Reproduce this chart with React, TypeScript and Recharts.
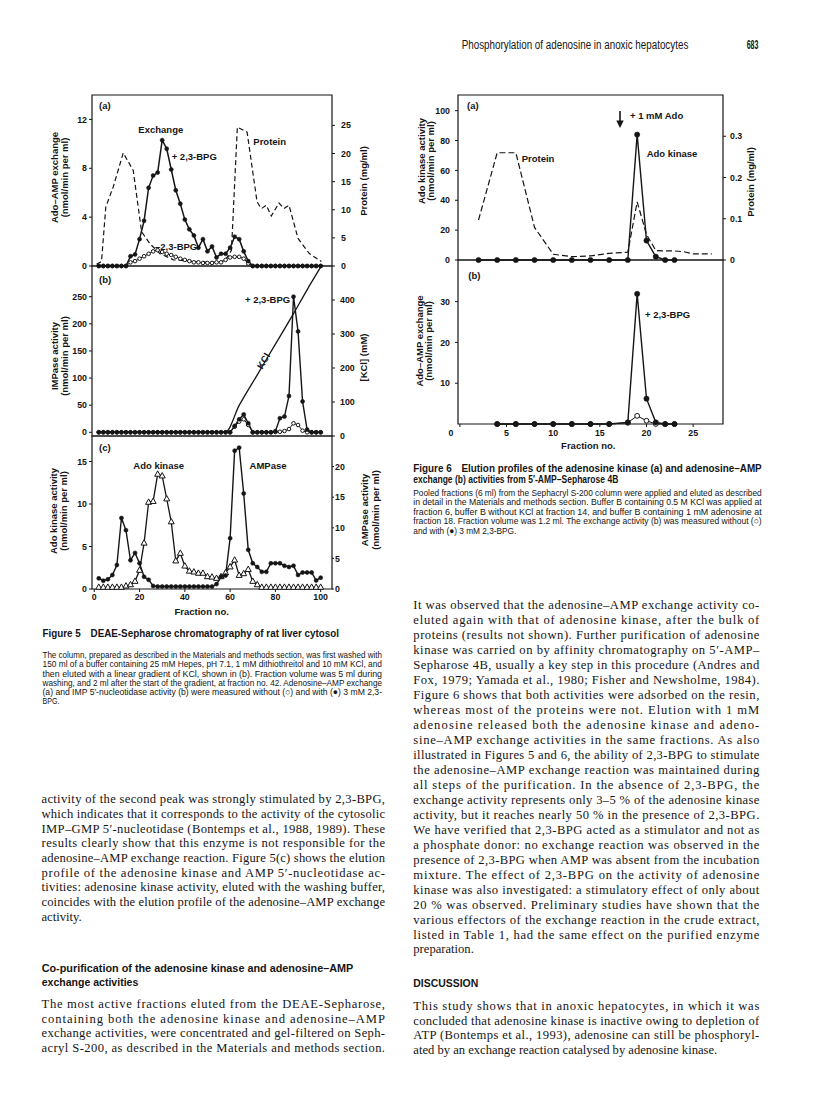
import React from "react";
import { ComposedChart, Line, XAxis, YAxis, ReferenceArea } from "recharts";

const SANS = '"Liberation Sans", Arial, Helvetica, sans-serif';
const SERIF = '"Liberation Serif", "Times New Roman", serif';
const INK = "#151515";

// ---- Figure 5: DEAE-Sepharose, one point every 2 fractions ----
const FIG5_FRACTIONS = [
  2, 4, 6, 8, 10, 12, 14, 16, 18, 20, 22, 24, 26, 28, 30, 32, 34, 36, 38, 40, 42, 44, 46, 48, 50,
  52, 54, 56, 58, 60, 62, 64, 66, 68, 70, 72, 74, 76, 78, 80, 82, 84, 86, 88, 90, 92, 94, 96, 98, 100,
];
// (a) Ado-AMP exchange, nmol/min per ml
const FIG5A_PLUS_BPG = [
  0, 0, 0, 0, 0, 0, 0, 0.8, 0.95, 2.2, 3.7, 6.4, 7.4, 7.65, 10.3, 9.6, 7.9, 6.2, 5.1, 3.8, 3.0, 2.5, 1.5, 2.2, 1.2,
  1.6, 0.7, 1.0, 1.0, 1.5, 2.4, 2.2, 1.2, 0.4, 0, 0, 0, 0, 0, 0, 0, 0, 0, 0, 0, 0, 0, 0, 0, 0,
];
const FIG5A_MINUS_BPG = [
  0, 0, 0, 0, 0, 0, 0, 0.3, 0.4, 0.6, 0.8, 1.0, 1.2, 1.3, 1.15, 1.0, 0.9, 0.75, 0.6, 0.5, 0.4, 0.3, 0.3, 0.25, 0.25,
  0.25, 0.3, 0.3, 0.5, 0.7, 0.75, 0.75, 0.6, 0.2, 0, 0, 0, 0, 0, 0, 0, 0, 0, 0, 0, 0, 0, 0, 0, 0,
];
// (a) protein, mg/ml (dashed)
const FIG5A_PROTEIN_FRACTIONS = [
  1, 3.2, 5.1, 8.4, 12.8, 17.2, 20.9, 24.5, 29, 35, 45, 55, 58, 60.6, 63.2, 67.5, 71.9, 73.8, 76, 78.2, 81.6,
  83.8, 86, 90, 95, 100.3,
];
const FIG5A_PROTEIN = [
  0.3, 0.8, 10.5, 14.1, 20.1, 17.0, 6.1, 4.0, 2.2, 1.1, 0.8, 0.6, 1.1, 2.8, 24.7, 23.8, 11.4, 10.2, 10.8, 8.9, 11.2,
  10.2, 10.8, 4.9, 2.2, 0.8,
];
// (b) IMPase activity, nmol/min per ml
const FIG5B_PLUS_BPG = [
  0, 0, 0, 0, 0, 0, 0, 0, 0, 0, 0, 0, 0, 0, 0, 0, 0, 0, 0, 0, 0, 0, 0, 0, 0,
  0, 0, 0, 0, 0, 11.7, 24, 33, 16.6, 0, 0, 0, 0, 0, 2, 26, 29, 67, 250, 186, 57, 5, 0, 0, 0,
];
const FIG5B_MINUS_BPG = [
  0, 0, 0, 0, 0, 0, 0, 0, 0, 0, 0, 0, 0, 0, 0, 0, 0, 0, 0, 0, 0, 0, 0, 0, 0,
  0, 0, 0, 0, 0, 10.4, 19.7, 24, 13.5, 0, 0, 0, 0, 0, 0.5, 1, 2.4, 6, 16.6, 13.5, 3, 0, 0, 0, 0,
];
// (b) KCl gradient, mM
const FIG5B_KCL_FRACTIONS = [1, 58, 64, 72, 80, 88, 94, 100.3];
const FIG5B_KCL = [12, 12, 90, 180, 270, 360, 430, 500];
// (c) Ado kinase (triangles, left) and AMPase (circles, right)
const FIG5C_ADO_KINASE = [
  0.2, 0.2, 0.2, 0.2, 0.2, 0.2, 0.35, 0.5, 0.9, 2.2, 5.4, 10.2, 10.3, 13.5, 13.3, 10.6, 7.9, 3.3, 4.2, 2.7, 2.1, 2.0,
  1.85, 1.85, 1.45, 1.4, 1.25, 1.45, 1.9, 2.6, 3.4, 1.6, 1.8, 2.3, 0.9, 0.5, 0.2, 0.2, 0.2, 0.2, 0.2, 0.2, 0.2, 0.2,
  0.2, 0.2, 0.2, 0.2, 0.2, 0.2,
];
const FIG5C_AMPASE = [
  1.74, 1.36, 1.58, 2.29, 3.92, 11.6, 9.6, 4.7, 5.9, 4.2, 2.0, 1.5, 0.5, 0.4, 0.4, 0.4, 0.4, 0.4, 0.4, 0.4, 0.4, 0.4,
  0.4, 0.4, 0.4, 0.4, 0.8, 2.0, 2.2, 8.3, 22.6, 23.1, 15.6, 6.4, 4.2, 3.6, 2.8, 2.8, 4.2, 4.2, 4.2, 3.8, 3.6, 3.8,
  2.3, 2.7, 2.7, 2.7, 1.4, 1.85,
];

// ---- Figure 6: 5'-AMP-Sepharose 4B ----
const FIG6A_FRACTIONS = [2, 4, 6, 8, 10, 12, 14, 16, 18, 19, 20, 21, 22, 23];
const FIG6A_ADO_KINASE = [0, 0, 0, 0, 0, 0, 0, 0, 0, 84, 13, 2.2, 0, 0];
const FIG6A_PROTEIN_FRACTIONS = [2, 4, 6, 8, 10, 12, 14, 16, 18, 19, 20, 21, 22, 23, 24, 25, 27];
const FIG6A_PROTEIN = [
  0.097, 0.26, 0.26, 0.079, 0.014, 0.008, 0.01, 0.016, 0.019, 0.141, 0.062, 0.023, 0.022, 0.022, 0.02, 0.015, 0.015,
];
const FIG6B_FRACTIONS = [4, 6, 8, 10, 12, 14, 16, 18, 19, 20, 21, 22, 23];
const FIG6B_PLUS_BPG = [0, 0, 0, 0, 0, 0, 0, 0.4, 31.9, 6.2, 0.4, 0, 0];
const FIG6B_MINUS_BPG = [0, 0, 0, 0, 0, 0, 0, 0.3, 2.0, 0.8, 0, 0, 0];

// ---- page text ----
const LEFT_BODY = [
  "activity of the second peak was strongly stimulated by 2,3-BPG,",
  "which indicates that it corresponds to the activity of the cytosolic",
  "IMP–GMP 5′-nucleotidase (Bontemps et al., 1988, 1989). These",
  "results clearly show that this enzyme is not responsible for the",
  "adenosine–AMP exchange reaction. Figure 5(c) shows the elution",
  "profile of the adenosine kinase and AMP 5′-nucleotidase ac-",
  "tivities: adenosine kinase activity, eluted with the washing buffer,",
  "coincides with the elution profile of the adenosine–AMP exchange",
  "activity.",
];
const LEFT_BODY_2 = [
  "The most active fractions eluted from the DEAE-Sepharose,",
  "containing both the adenosine kinase and adenosine–AMP",
  "exchange activities, were concentrated and gel-filtered on Seph-",
  "acryl S-200, as described in the Materials and methods section.",
];
const RIGHT_BODY = [
  "It was observed that the adenosine–AMP exchange activity co-",
  "eluted again with that of adenosine kinase, after the bulk of",
  "proteins (results not shown). Further purification of adenosine",
  "kinase was carried on by affinity chromatography on 5′-AMP–",
  "Sepharose 4B, usually a key step in this procedure (Andres and",
  "Fox, 1979; Yamada et al., 1980; Fisher and Newsholme, 1984).",
  "Figure 6 shows that both activities were adsorbed on the resin,",
  "whereas most of the proteins were not. Elution with 1 mM",
  "adenosine released both the adenosine kinase and adeno-",
  "sine–AMP exchange activities in the same fractions. As also",
  "illustrated in Figures 5 and 6, the ability of 2,3-BPG to stimulate",
  "the adenosine–AMP exchange reaction was maintained during",
  "all steps of the purification. In the absence of 2,3-BPG, the",
  "exchange activity represents only 3–5 % of the adenosine kinase",
  "activity, but it reaches nearly 50 % in the presence of 2,3-BPG.",
  "We have verified that 2,3-BPG acted as a stimulator and not as",
  "a phosphate donor: no exchange reaction was observed in the",
  "presence of 2,3-BPG when AMP was absent from the incubation",
  "mixture. The effect of 2,3-BPG on the activity of adenosine",
  "kinase was also investigated: a stimulatory effect of only about",
  "20 % was observed. Preliminary studies have shown that the",
  "various effectors of the exchange reaction in the crude extract,",
  "listed in Table 1, had the same effect on the purified enzyme",
  "preparation.",
];
const DISCUSSION_BODY = [
  "This study shows that in anoxic hepatocytes, in which it was",
  "concluded that adenosine kinase is inactive owing to depletion of",
  "ATP (Bontemps et al., 1993), adenosine can still be phosphoryl-",
  "ated by an exchange reaction catalysed by adenosine kinase.",
];
const FIG5_CAPTION = [
  "The column, prepared as described in the Materials and methods section, was first washed with",
  "150 ml of a buffer containing 25 mM Hepes, pH 7.1, 1 mM dithiothreitol and 10 mM KCl, and",
  "then eluted with a linear gradient of KCl, shown in (b). Fraction volume was 5 ml during",
  "washing, and 2 ml after the start of the gradient, at fraction no. 42. Adenosine–AMP exchange",
  "(a) and IMP 5′-nucleotidase activity (b) were measured without (○) and with (●) 3 mM 2,3-",
];
const FIG6_CAPTION = [
  "Pooled fractions (6 ml) from the Sephacryl S-200 column were applied and eluted as described",
  "in detail in the Materials and methods section. Buffer B containing 0.5 M KCl was applied at",
  "fraction 6, buffer B without KCl at fraction 14, and buffer B containing 1 mM adenosine at",
  "fraction 18. Fraction volume was 1.2 ml. The exchange activity (b) was measured without (○)",
];

const rows = (xs: number[], ys: number[]) => xs.map((x, i) => ({ x, y: ys[i] }));

const tickFont = { fontSize: 8.8, fontWeight: 700, fill: INK, fontFamily: SANS };
const filledDot = (r: number) => ({ r, fill: INK, stroke: INK, strokeWidth: 0.6 });
const openDot = (r: number) => ({ r, fill: "#fff", stroke: INK, strokeWidth: 1 });

function TriangleDot(p: any) {
  const { cx, cy, index } = p;
  if (cx == null || cy == null) return <g key={`t${index}`} />;
  return (
    <path
      key={`t${index}`}
      d={`M${cx},${cy - 3.4}L${cx + 3},${cy + 2}L${cx - 3},${cy + 2}Z`}
      fill="#fff"
      stroke={INK}
      strokeWidth={1}
    />
  );
}

function Fig6XTick(p: any) {
  const { x, y, payload } = p;
  return (
    <text x={payload.value === 0 ? x - 9 : x} y={y} dy="0.71em" textAnchor="middle" {...tickFont}>
      {payload.value}
    </text>
  );
}

type TxtProps = {
  x: number;
  y: number;
  w?: number;
  size: number;
  bold?: boolean;
  font?: string;
  squeeze?: boolean;
  anchor?: "start" | "middle" | "end";
  rotate?: number;
  children: React.ReactNode;
};

function Txt({ x, y, w, size, bold, font = SANS, squeeze, anchor = "start", rotate, children }: TxtProps) {
  const extra: any = {};
  if (w) {
    extra.textLength = w;
    extra.lengthAdjust = squeeze ? "spacingAndGlyphs" : "spacing";
  }
  return (
    <text
      x={x}
      y={y + size * 0.35}
      fontSize={size}
      fontFamily={font}
      fontWeight={bold ? 700 : 400}
      textAnchor={anchor}
      fill={INK}
      transform={rotate ? `rotate(${rotate} ${x} ${y})` : undefined}
      {...extra}
    >
      {children}
    </text>
  );
}

const box = (left: number, top: number): React.CSSProperties => ({ position: "absolute", left, top });

function Figure5() {
  const xDomain: [number, number] = [-1, 105];
  return (
    <>
      {/* (a) exchange + protein */}
      <div style={box(32, 85)}>
        <ComposedChart width={360} height={191} margin={{ top: 10, right: 0, bottom: 10, left: 0 }}>
          <XAxis dataKey="x" type="number" domain={xDomain} hide />
          <YAxis yAxisId="l" type="number" domain={[0, 14]} ticks={[0, 4, 8, 12]} interval={0} width={60}
            axisLine={false} tickLine={{ stroke: INK }} tickSize={3} tickMargin={2} tick={tickFont} />
          <YAxis yAxisId="r" orientation="right" type="number" domain={[0, 30.4]} ticks={[0, 5, 10, 15, 20, 25]}
            interval={0} width={60} axisLine={false} tickLine={{ stroke: INK }} tickSize={3} tickMargin={6} tick={tickFont} />
          <ReferenceArea yAxisId="l" x1={-1} x2={105} y1={0} y2={14} fill="none" stroke={INK} strokeWidth={1.2} />
          <Line yAxisId="r" data={rows(FIG5A_PROTEIN_FRACTIONS, FIG5A_PROTEIN)} dataKey="y" type="linear"
            stroke={INK} strokeWidth={1.2} strokeDasharray="5 3" dot={false} isAnimationActive={false} />
          <Line yAxisId="l" data={rows(FIG5_FRACTIONS, FIG5A_MINUS_BPG)} dataKey="y" type="linear"
            stroke={INK} strokeWidth={1} dot={openDot(1.8)} isAnimationActive={false} />
          <Line yAxisId="l" data={rows(FIG5_FRACTIONS, FIG5A_PLUS_BPG)} dataKey="y" type="linear"
            stroke={INK} strokeWidth={1.5} dot={filledDot(2)} isAnimationActive={false} />
        </ComposedChart>
      </div>
      {/* (b) IMPase + KCl */}
      <div style={box(32, 256)}>
        <ComposedChart width={360} height={190} margin={{ top: 10, right: 0, bottom: 10, left: 0 }}>
          <XAxis dataKey="x" type="number" domain={xDomain} hide />
          <YAxis yAxisId="l" type="number" domain={[-6.8, 306.6]} ticks={[0, 50, 100, 150, 200, 250]} interval={0}
            width={60} axisLine={false} tickLine={{ stroke: INK }} tickSize={3} tickMargin={2} tick={tickFont} />
          <YAxis yAxisId="r" orientation="right" type="number" domain={[0, 500]} ticks={[0, 100, 200, 300, 400]}
            interval={0} width={60} axisLine={false} tickLine={{ stroke: INK }} tickSize={3} tickMargin={5} tick={tickFont} />
          <ReferenceArea yAxisId="l" x1={-1} x2={105} y1={-6.8} y2={306.6} fill="none" stroke={INK} strokeWidth={1.2} />
          <Line yAxisId="r" data={rows(FIG5B_KCL_FRACTIONS, FIG5B_KCL)} dataKey="y" type="monotone"
            stroke={INK} strokeWidth={1.3} dot={false} isAnimationActive={false} />
          <Line yAxisId="l" data={rows(FIG5_FRACTIONS, FIG5B_MINUS_BPG)} dataKey="y" type="linear"
            stroke={INK} strokeWidth={1} dot={openDot(1.8)} isAnimationActive={false} />
          <Line yAxisId="l" data={rows(FIG5_FRACTIONS, FIG5B_PLUS_BPG)} dataKey="y" type="linear"
            stroke={INK} strokeWidth={1.4} dot={filledDot(2)} isAnimationActive={false} />
        </ComposedChart>
      </div>
      {/* (c) Ado kinase + AMPase */}
      <div style={box(32, 426)}>
        <ComposedChart width={360} height={193} margin={{ top: 10, right: 0, bottom: 5, left: 0 }}>
          <XAxis dataKey="x" type="number" domain={xDomain} ticks={[0, 20, 40, 60, 80, 100]} interval={0}
            height={25} axisLine={false} tickLine={{ stroke: INK }} tickSize={3} tickMargin={2} tick={tickFont} />
          <YAxis yAxisId="l" type="number" domain={[0, 18]} ticks={[0, 5, 10, 15]} interval={0} width={60}
            axisLine={false} tickLine={{ stroke: INK }} tickSize={3} tickMargin={2} tick={tickFont} />
          <YAxis yAxisId="r" orientation="right" type="number" domain={[0, 25]} ticks={[0, 5, 10, 15, 20]}
            interval={0} width={60} axisLine={false} tickLine={{ stroke: INK }} tickSize={2} tickMargin={1} tick={tickFont} />
          <ReferenceArea yAxisId="l" x1={-1} x2={105} y1={0} y2={18} fill="none" stroke={INK} strokeWidth={1.2} />
          <Line yAxisId="l" data={rows(FIG5_FRACTIONS, FIG5C_ADO_KINASE)} dataKey="y" type="linear"
            stroke={INK} strokeWidth={1.3} dot={TriangleDot} isAnimationActive={false} />
          <Line yAxisId="r" data={rows(FIG5_FRACTIONS, FIG5C_AMPASE)} dataKey="y" type="linear"
            stroke={INK} strokeWidth={1.4} dot={filledDot(2)} isAnimationActive={false} />
        </ComposedChart>
      </div>
    </>
  );
}

function Figure6() {
  const xDomain: [number, number] = [-0.2, 28.2];
  return (
    <>
      {/* (a) Ado kinase + protein */}
      <div style={box(398, 85)}>
        <ComposedChart width={385} height={185} margin={{ top: 10, right: 0, bottom: 10, left: 0 }}>
          <XAxis dataKey="x" type="number" domain={xDomain} hide />
          <YAxis yAxisId="l" type="number" domain={[0, 110.5]} ticks={[0, 20, 40, 60, 80, 100]} interval={0}
            width={60} axisLine={false} tickLine={{ stroke: INK }} tickSize={3} tickMargin={5} tick={tickFont} />
          <YAxis yAxisId="r" orientation="right" type="number" domain={[0, 0.4]} ticks={[0, 0.1, 0.2, 0.3]}
            interval={0} width={60} axisLine={false} tickLine={{ stroke: INK }} tickSize={3} tickMargin={4} tick={tickFont} />
          <ReferenceArea yAxisId="l" x1={-0.2} x2={28.2} y1={0} y2={110.5} fill="none" stroke={INK} strokeWidth={1.2} />
          <Line yAxisId="r" data={rows(FIG6A_PROTEIN_FRACTIONS, FIG6A_PROTEIN)} dataKey="y" type="linear"
            stroke={INK} strokeWidth={1.2} strokeDasharray="6 3" dot={false} isAnimationActive={false} />
          <Line yAxisId="l" data={rows(FIG6A_FRACTIONS, FIG6A_ADO_KINASE)} dataKey="y" type="linear"
            stroke={INK} strokeWidth={1.4} dot={filledDot(2.6)} isAnimationActive={false} />
        </ComposedChart>
      </div>
      {/* (b) exchange */}
      <div style={box(398, 250)}>
        <ComposedChart width={385} height={201} margin={{ top: 10, right: 60, bottom: 5, left: 0 }}>
          <XAxis dataKey="x" type="number" domain={xDomain} ticks={[0, 5, 10, 15, 20, 25]} interval={0}
            height={22} axisLine={false} tickLine={{ stroke: INK }} tickSize={3} tickMargin={3} tick={<Fig6XTick />} />
          <YAxis yAxisId="l" type="number" domain={[0, 40.2]} ticks={[10, 20, 30]} interval={0} width={60}
            axisLine={false} tickLine={{ stroke: INK }} tickSize={3} tickMargin={5} tick={tickFont} />
          <ReferenceArea yAxisId="l" x1={-0.2} x2={28.2} y1={0} y2={40.2} fill="none" stroke={INK} strokeWidth={1.2} />
          <Line yAxisId="l" data={rows(FIG6B_FRACTIONS, FIG6B_MINUS_BPG)} dataKey="y" type="linear"
            stroke={INK} strokeWidth={1} dot={openDot(2.4)} isAnimationActive={false} />
          <Line yAxisId="l" data={rows(FIG6B_FRACTIONS, FIG6B_PLUS_BPG)} dataKey="y" type="linear"
            stroke={INK} strokeWidth={1.4} dot={filledDot(2.6)} isAnimationActive={false} />
        </ComposedChart>
      </div>
    </>
  );
}

function PageText() {
  const F = 9.5; // figure lettering
  return (
    <svg width={816} height={1101} style={{ position: "absolute", left: 0, top: 0, pointerEvents: "none" }}>
      {/* running head */}
      <Txt x={461.7} y={45} w={226.6} size={12} squeeze>Phosphorylation of adenosine in anoxic hepatocytes</Txt>
      <Txt x={746.7} y={45} w={11.8} size={12} bold squeeze>683</Txt>

      {/* Figure 5 lettering */}
      <Txt x={99} y={106} size={F} bold>(a)</Txt>
      <Txt x={160.8} y={130} size={F} bold anchor="middle">Exchange</Txt>
      <Txt x={171.7} y={157} size={F} bold>+ 2,3-BPG</Txt>
      <Txt x={253.3} y={141.7} size={F} bold>Protein</Txt>
      <Txt x={155} y={247} size={F} bold>–2,3-BPG</Txt>
      <Txt x={99} y={279.5} size={F} bold>(b)</Txt>
      <Txt x={245} y={299.3} size={F} bold>+ 2,3-BPG</Txt>
      <Txt x={263.5} y={361} size={F} bold anchor="middle" rotate={-60}>KCl</Txt>
      <Txt x={99} y={447.3} size={F} bold>(c)</Txt>
      <Txt x={158.7} y={466} size={F} bold anchor="middle">Ado kinase</Txt>
      <Txt x={268} y={466} size={F} bold anchor="middle">AMPase</Txt>
      <Txt x={201.7} y={611.7} size={F} bold anchor="middle">Fraction no.</Txt>
      <Txt x={55} y={177.5} size={F} bold anchor="middle" rotate={-90}>Ado–AMP exchange</Txt>
      <Txt x={65} y={177.5} size={F} bold anchor="middle" rotate={-90}>(nmol/min per ml)</Txt>
      <Txt x={364} y={181} size={F} bold anchor="middle" rotate={-90}>Protein (mg/ml)</Txt>
      <Txt x={55} y={356} size={F} bold anchor="middle" rotate={-90}>IMPase activity</Txt>
      <Txt x={65} y={356} size={F} bold anchor="middle" rotate={-90}>(nmol/min per ml)</Txt>
      <Txt x={364} y={357.5} size={F} bold anchor="middle" rotate={-90}>[KCl] (mM)</Txt>
      <Txt x={54} y={511} size={F} bold anchor="middle" rotate={-90}>Ado kinase activity</Txt>
      <Txt x={64} y={511} size={F} bold anchor="middle" rotate={-90}>(nmol/min per ml)</Txt>
      <Txt x={365} y={510} size={F} bold anchor="middle" rotate={-90}>AMPase activity</Txt>
      <Txt x={376} y={510} size={F} bold anchor="middle" rotate={-90}>(nmol/min per ml)</Txt>

      {/* Figure 6 lettering */}
      <Txt x={467} y={105.7} size={F} bold>(a)</Txt>
      <line x1={620} y1={111} x2={620} y2={121} stroke={INK} strokeWidth={1.6} />
      <path d="M616.3,120.5L623.7,120.5L620,128Z" fill={INK} />
      <Txt x={630} y={116} size={F} bold>+ 1 mM Ado</Txt>
      <Txt x={521.7} y={158.3} size={F} bold>Protein</Txt>
      <Txt x={646.7} y={153.3} size={F} bold>Ado kinase</Txt>
      <Txt x={468.3} y={276} size={F} bold>(b)</Txt>
      <Txt x={645} y={314.3} size={F} bold>+ 2,3-BPG</Txt>
      <Txt x={588.3} y={445.7} size={F} bold anchor="middle">Fraction no.</Txt>
      <Txt x={421.5} y={161} size={F} bold anchor="middle" rotate={-90}>Ado kinase activity</Txt>
      <Txt x={431} y={161} size={F} bold anchor="middle" rotate={-90}>(nmol/min per ml)</Txt>
      <Txt x={751} y={182} size={F} bold anchor="middle" rotate={-90}>Protein (mg/ml)</Txt>
      <Txt x={419.5} y={341} size={F} bold anchor="middle" rotate={-90}>Ado–AMP exchange</Txt>
      <Txt x={429} y={341} size={F} bold anchor="middle" rotate={-90}>(nmol/min per ml)</Txt>

      {/* Figure 6 caption */}
      <Txt x={413.3} y={468.3} w={348.4} size={11.5} bold squeeze>
        Figure 6{"\u2003"}Elution profiles of the adenosine kinase (a) and adenosine–AMP
      </Txt>
      <Txt x={413.3} y={478.5} w={205} size={11.5} bold squeeze>exchange (b) activities from 5′-AMP–Sepharose 4B</Txt>
      {FIG6_CAPTION.map((s, i) => (
        <Txt key={`c6${i}`} x={413.3} y={492.7 + 9.48 * i} w={348.4} size={9} squeeze>{s}</Txt>
      ))}
      <Txt x={413.3} y={530.6} w={103} size={9} squeeze>and with (●) 3 mM 2,3-BPG.</Txt>

      {/* Figure 5 caption */}
      <Txt x={42.5} y={633.3} w={296.5} size={11.5} bold squeeze>
        Figure 5{"\u2003"}DEAE-Sepharose chromatography of rat liver cytosol
      </Txt>
      {FIG5_CAPTION.map((s, i) => (
        <Txt key={`c5${i}`} x={42.5} y={655 + 9.2 * i} w={339.5} size={9} squeeze>{s}</Txt>
      ))}
      <Txt x={42.5} y={701} w={17} size={9} squeeze>BPG.</Txt>

      {/* left column body */}
      {LEFT_BODY.map((s, i) => (
        <Txt key={`lb${i}`} x={41.5} y={799 + 14.65 * i} w={i < LEFT_BODY.length - 1 ? 343.5 : undefined} size={12.6} font={SERIF}>
          {s}
        </Txt>
      ))}
      <Txt x={41.7} y={968.3} w={311.6} size={11.5} bold squeeze>Co-purification of the adenosine kinase and adenosine–AMP</Txt>
      <Txt x={41.7} y={981.7} w={96.6} size={11.5} bold squeeze>exchange activities</Txt>
      {LEFT_BODY_2.map((s, i) => (
        <Txt key={`lb2${i}`} x={41.5} y={1004 + 14.5 * i} w={343.5} size={12.6} font={SERIF}>
          {s}
        </Txt>
      ))}

      {/* right column body */}
      {RIGHT_BODY.map((s, i) => (
        <Txt key={`rb${i}`} x={413.3} y={605 + 14.96 * i} w={i < RIGHT_BODY.length - 1 ? 346 : undefined} size={12.6} font={SERIF}>
          {s}
        </Txt>
      ))}
      <Txt x={413.3} y={983} w={65} size={11.5} bold squeeze>DISCUSSION</Txt>
      {DISCUSSION_BODY.map((s, i) => (
        <Txt key={`db${i}`} x={413.3} y={1005.5 + 14.6 * i} w={i < DISCUSSION_BODY.length - 1 ? 346 : undefined} size={12.6} font={SERIF}>
          {s}
        </Txt>
      ))}
    </svg>
  );
}

export default function App() {
  return (
    <div style={{ position: "absolute", left: 0, top: 0, width: 816, height: 1101, background: "#fff", overflow: "hidden" }}>
      <Figure5 />
      <Figure6 />
      <PageText />
    </div>
  );
}
